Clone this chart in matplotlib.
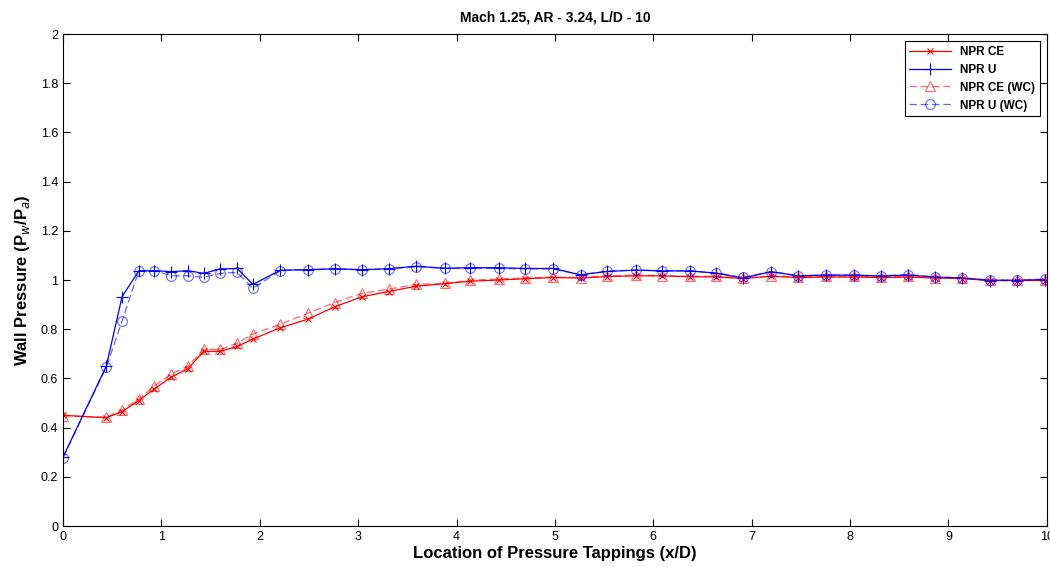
import numpy as np
import matplotlib
matplotlib.use('Agg')
import matplotlib.pyplot as plt
from matplotlib.ticker import FormatStrFormatter

plt.rcParams['font.family'] = ['Liberation Sans Narrow', 'Liberation Sans', 'DejaVu Sans']

# tapping locations (x/D)
x = [0, 0.44, 0.60, 0.77, 0.93, 1.10, 1.27, 1.43, 1.60, 1.77, 1.93,
     2.21, 2.49, 2.76, 3.04, 3.31, 3.59, 3.88, 4.14, 4.43, 4.70, 4.98,
     5.26, 5.53, 5.82, 6.09, 6.37, 6.64, 6.91, 7.20, 7.47, 7.76, 8.04,
     8.31, 8.59, 8.86, 9.14, 9.42, 9.70, 9.98]

npr_ce = [0.45, 0.44, 0.465, 0.51, 0.558, 0.605, 0.64, 0.71, 0.71, 0.73, 0.76,
          0.806, 0.841, 0.891, 0.932, 0.953, 0.975, 0.985, 0.995, 1.0, 1.005, 1.01,
          1.008, 1.014, 1.017, 1.017, 1.013, 1.013, 1.006, 1.015, 1.01, 1.012, 1.012,
          1.01, 1.012, 1.008, 1.006, 0.998, 0.998, 0.998]

npr_u = [0.28, 0.65, 0.932, 1.037, 1.038, 1.034, 1.038, 1.027, 1.045, 1.047, 0.982,
         1.04, 1.042, 1.046, 1.042, 1.046, 1.056, 1.048, 1.05, 1.05, 1.047, 1.047,
         1.021, 1.035, 1.04, 1.037, 1.037, 1.028, 1.008, 1.034, 1.017, 1.02, 1.02,
         1.016, 1.02, 1.012, 1.008, 0.998, 0.998, 1.002]

npr_ce_wc = [0.448, 0.442, 0.472, 0.516, 0.57, 0.618, 0.65, 0.718, 0.718, 0.743, 0.78,
             0.82, 0.865, 0.908, 0.946, 0.963, 0.982, 0.986, 1.0, 1.004, 1.009, 1.012,
             1.01, 1.017, 1.02, 1.017, 1.015, 1.015, 1.008, 1.017, 1.013, 1.015, 1.015,
             1.013, 1.015, 1.01, 1.008, 1.0, 1.0, 1.0]

npr_u_wc = [0.278, 0.645, 0.833, 1.037, 1.038, 1.017, 1.017, 1.011, 1.027, 1.031, 0.966,
            1.038, 1.041, 1.045, 1.041, 1.045, 1.054, 1.047, 1.047, 1.047, 1.045, 1.045,
            1.022, 1.035, 1.041, 1.037, 1.037, 1.028, 1.011, 1.034, 1.017, 1.02, 1.02,
            1.017, 1.022, 1.013, 1.009, 1.0, 1.0, 1.004]

fig = plt.figure(figsize=(10.5, 5.67), dpi=100)
ax = fig.add_axes([0.06, 0.0723, 0.937, 0.8677])

ax.plot(x, npr_ce, color='red', lw=0.9, marker='x', ms=4, mew=0.8, label='NPR CE')
ax.plot(x, npr_u, color='blue', lw=0.9, marker='+', ms=8, mew=0.8, label='NPR U')
ax.plot(x, npr_ce_wc, color='red', lw=0.9, ls=(0, (6, 3)), marker='^', ms=7,
        mew=0.8, mfc='none', alpha=0.6, label='NPR CE (WC)')
ax.plot(x, npr_u_wc, color='blue', lw=0.9, ls=(0, (6, 3)), marker='o', ms=7,
        mew=0.8, mfc='none', alpha=0.6, label='NPR U (WC)')

ax.set_xlim(0, 10)
ax.set_ylim(0, 2)
ax.set_xticks(np.arange(0, 11, 1))
ax.set_yticks(np.arange(0, 2.01, 0.2))
ax.yaxis.set_major_formatter(FormatStrFormatter('%g'))
ax.tick_params(direction='in', top=True, right=True, length=5, labelsize=9)
for s in ax.spines.values():
    s.set_linewidth(0.8)

ax.set_title('Mach 1.25, AR - 3.24, L/D - 10', fontsize=10, fontweight='bold', pad=9)
ax.set_xlabel('Location of Pressure Tappings (x/D)', fontsize=12, fontweight='bold', labelpad=2)
ax.set_ylabel('Wall Pressure (P$_w$/P$_a$)', fontsize=12, fontweight='bold', labelpad=6)

leg = ax.legend(loc='upper right', fontsize=8.5, fancybox=False, edgecolor='black',
                framealpha=1, borderaxespad=0.6, handlelength=3.5)
leg.get_frame().set_linewidth(0.8)
for t in leg.get_texts():
    t.set_fontweight('bold')

fig.savefig('out.png', dpi=100)
